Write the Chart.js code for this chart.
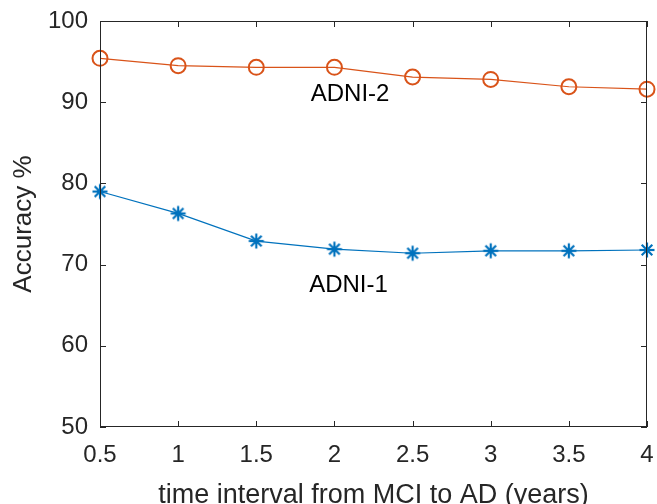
<!DOCTYPE html>
<html>
<head>
<meta charset="utf-8">
<script src="https://cdn.jsdelivr.net/npm/chart.js@4"></script>
<style>
  html, body { margin: 0; padding: 0; background: #fff; }
  #wrap { width: 657px; height: 504px; }
</style>
</head>
<body>
<div id="wrap"><canvas id="chart" width="657" height="504"></canvas></div>
<script>
// values
const years = [0.5, 1, 1.5, 2, 2.5, 3, 3.5, 4];
const adni2 = [95.4, 94.5, 94.3, 94.3, 93.1, 92.8, 91.9, 91.6];
const adni1 = [79.0, 76.3, 72.9, 71.9, 71.4, 71.7, 71.7, 71.8];
const xTicks = [0.5, 1, 1.5, 2, 2.5, 3, 3.5, 4];
const yTicks = [50, 60, 70, 80, 90, 100];

const FONT = '"Liberation Sans", Arial, Helvetica, sans-serif';
const ORANGE = '#D95319';
const BLUE = '#0072BD';
const AXIS = '#262626';

// matlab style asterisk marker
function makeStar(color) {
  const c = document.createElement('canvas');
  c.width = 18; c.height = 18;
  const g = c.getContext('2d');
  g.strokeStyle = color;
  g.lineWidth = 2.2;
  g.translate(9, 9);
  for (let a = 0; a < 4; a++) {
    const t = a * Math.PI / 4;
    g.beginPath();
    g.moveTo(-7.5 * Math.cos(t), -7.5 * Math.sin(t));
    g.lineTo(7.5 * Math.cos(t), 7.5 * Math.sin(t));
    g.stroke();
  }
  return c;
}

// box around the plot with inward ticks on all sides, plus the series labels
const boxPlugin = {
  id: 'box',
  afterDatasetsDraw(chart) {
    const { ctx, chartArea: a, scales } = chart;
    ctx.save();
    ctx.strokeStyle = AXIS;
    ctx.lineWidth = 1;
    ctx.strokeRect(a.left + 0.5, a.top + 0.5, a.right - a.left - 1, a.bottom - a.top - 1);
    const tl = 6;
    ctx.beginPath();
    xTicks.forEach(v => {
      const x = Math.round(scales.x.getPixelForValue(v)) + 0.5;
      ctx.moveTo(x, a.bottom); ctx.lineTo(x, a.bottom - tl);
      ctx.moveTo(x, a.top); ctx.lineTo(x, a.top + tl);
    });
    yTicks.forEach(v => {
      const y = Math.round(scales.y.getPixelForValue(v)) + 0.5;
      ctx.moveTo(a.left, y); ctx.lineTo(a.left + tl, y);
      ctx.moveTo(a.right, y); ctx.lineTo(a.right - tl, y);
    });
    ctx.stroke();

    ctx.fillStyle = '#000';
    ctx.font = '24px ' + FONT;
    ctx.textAlign = 'center';
    ctx.textBaseline = 'middle';
    ctx.fillText('ADNI-2', scales.x.getPixelForValue(2.1), scales.y.getPixelForValue(91.0));
    ctx.fillText('ADNI-1', scales.x.getPixelForValue(2.09), scales.y.getPixelForValue(67.4));
    ctx.restore();
  }
};

new Chart(document.getElementById('chart'), {
  type: 'line',
  data: {
    datasets: [
      {
        label: 'ADNI-2',
        data: years.map((x, i) => ({ x, y: adni2[i] })),
        borderColor: ORANGE,
        borderWidth: 1.2,
        pointStyle: 'circle',
        pointRadius: 7.5,
        pointBorderWidth: 2,
        pointBackgroundColor: 'rgba(0,0,0,0)',
        pointBorderColor: ORANGE,
        fill: false,
        tension: 0,
        clip: false
      },
      {
        label: 'ADNI-1',
        data: years.map((x, i) => ({ x, y: adni1[i] })),
        borderColor: BLUE,
        borderWidth: 1.2,
        pointStyle: makeStar(BLUE),
        pointRadius: 7,
        fill: false,
        tension: 0,
        clip: false
      }
    ]
  },
  options: {
    responsive: false,
    animation: false,
    layout: { padding: { left: 0, right: 10, top: 21, bottom: 0 } },
    plugins: { legend: { display: false }, tooltip: { enabled: false } },
    scales: {
      x: {
        type: 'linear',
        min: 0.5,
        max: 4,
        afterBuildTicks(s) { s.ticks = xTicks.map(v => ({ value: v })); },
        afterFit(s) { s.height = 77; s.paddingLeft = 0; s.paddingRight = 0; },
        grid: { display: false, drawTicks: false, tickLength: 0 },
        border: { display: false },
        ticks: {
          color: AXIS,
          font: { family: FONT, size: 24 },
          padding: 14,
          maxRotation: 0,
          callback: v => String(v)
        },
        title: {
          display: true,
          text: 'time interval from MCI to AD (years)',
          color: AXIS,
          font: { family: FONT, size: 27 },
          padding: { top: 0, bottom: -8 }
        }
      },
      y: {
        min: 50,
        max: 100,
        afterBuildTicks(s) { s.ticks = yTicks.map(v => ({ value: v })); },
        afterFit(s) { s.width = 100; s.paddingTop = 0; s.paddingBottom = 0; },
        grid: { display: false, drawTicks: false, tickLength: 0 },
        border: { display: false },
        ticks: {
          color: AXIS,
          font: { family: FONT, size: 24 },
          padding: 12
        },
        title: {
          display: true,
          text: 'Accuracy %',
          color: AXIS,
          font: { family: FONT, size: 26 },
          padding: { top: 8, bottom: 0 }
        }
      }
    }
  },
  plugins: [boxPlugin]
});
</script>
</body>
</html>
